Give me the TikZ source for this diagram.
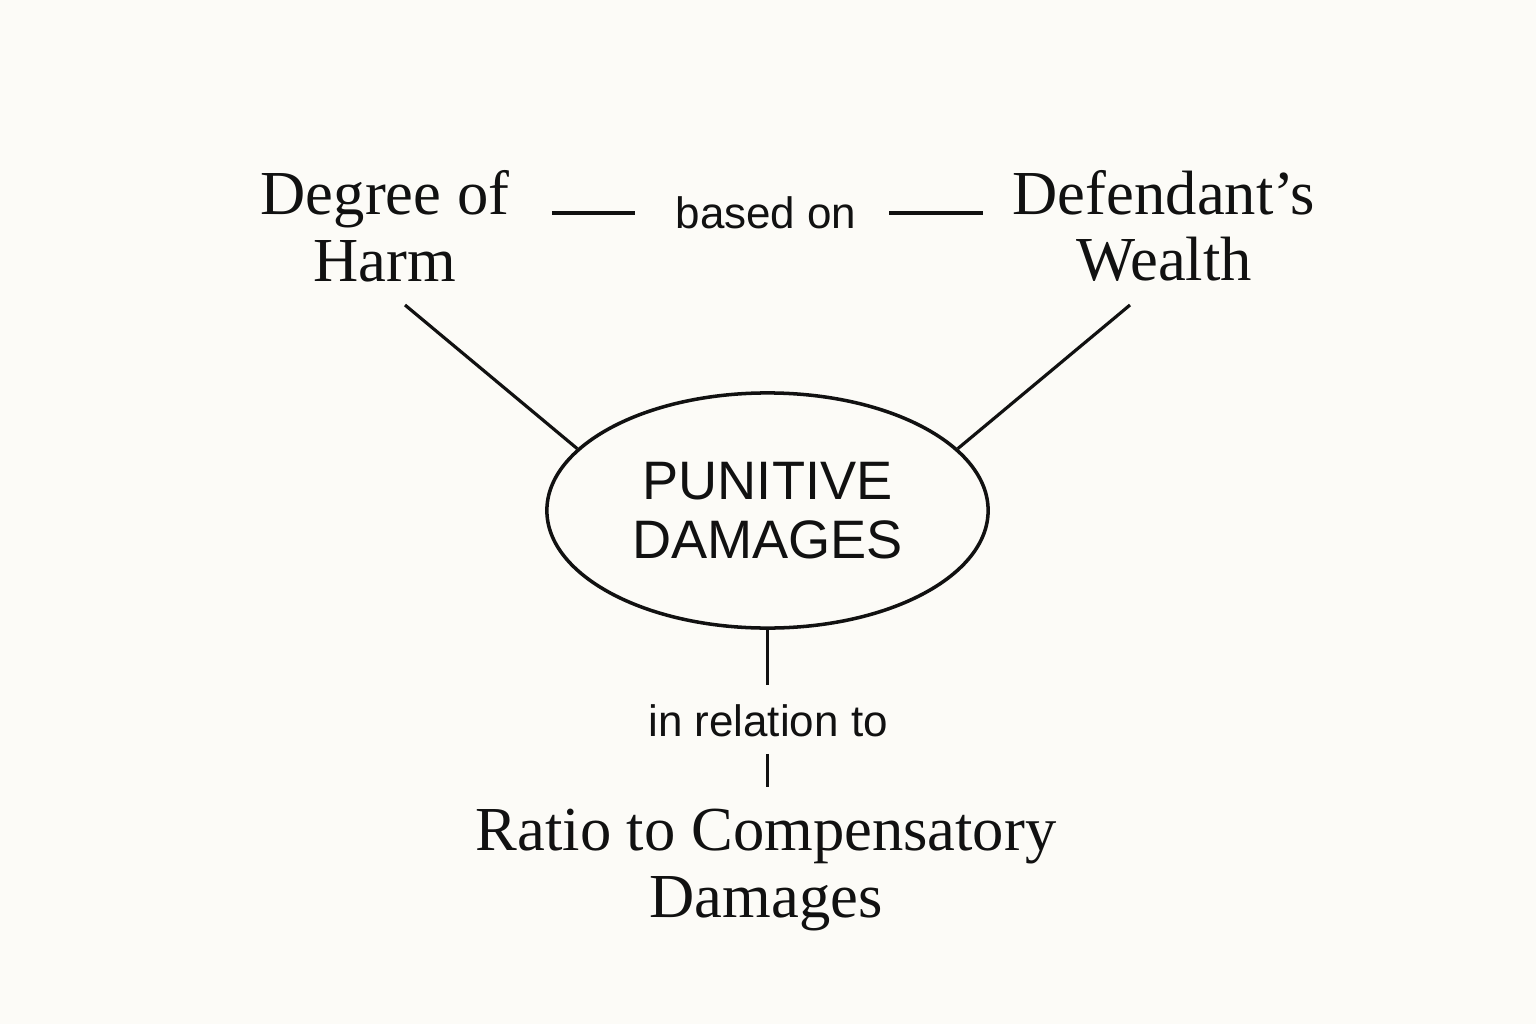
\documentclass[tikz,border=0pt]{standalone}
\usepackage{fontspec}
\setmainfont{Liberation Serif}
\setsansfont{Liberation Sans}
\usepackage{tikz}
\usetikzlibrary{calc}
\usetikzlibrary{positioning}
\usetikzlibrary{shapes.geometric}

\definecolor{paper}{RGB}{252,251,247}
\definecolor{ink}{RGB}{17,17,17}

\begin{document}
\begin{tikzpicture}[x=0.01cm,y=-0.01cm,
        link/.style={draw=ink,line width=0.9pt},
        factor/.style={inner sep=0pt,align=center,text=ink,font=\fontsize{17.8}{19}\selectfont},
        relword/.style={inner sep=0pt,text=ink,font=\sffamily\fontsize{12.5}{15}\selectfont},
        hub/.style={ellipse,draw=ink,line width=1pt,minimum width=4.41cm,minimum height=2.35cm,inner sep=0pt,
            align=center,text=ink,font=\sffamily\fontsize{15.4}{16.7}\selectfont}]
            \fill[paper] (0,0) rectangle (1536,1024);
            \useasboundingbox (0,0) rectangle (1536,1024);

            \coordinate (harmfoot) at (405,305);
            \coordinate (wealthfoot) at (1130,305);

            \node[hub] (pd) at (767.5,510.5) {PUNITIVE\\DAMAGES};
            \node[factor] (harm) at (385,226) {Degree of\\Harm};
            \node[factor] (wealth) at (1164,226) {Defendant’s\\Wealth};
            \node[relword] (basedon) at (766,213) {based on};
            \node[relword] (relation) at (768,721) {in relation to};
            \node[factor] (ratio) at (766,870) {Ratio to Compensatory\\Damages};

            \draw[link,shorten <=0.42cm,shorten >=0.4cm] (harm.east |- basedon.west)--(basedon.west);
            \draw[link,shorten <=0.32cm,shorten >=0.29cm] (basedon.east)--(wealth.west |- basedon.east);
            \draw[link] (harmfoot)--(pd.162);
            \draw[link] (wealthfoot)--(pd.18);
            \draw[link,shorten >=0.19cm] (pd.south)--(pd.south |- relation.north);
            \draw[link,shorten <=0.16cm,shorten >=0.21cm] (pd.south |- relation.south)--(pd.south |- ratio.north);

        \end{tikzpicture}
\end{document}
